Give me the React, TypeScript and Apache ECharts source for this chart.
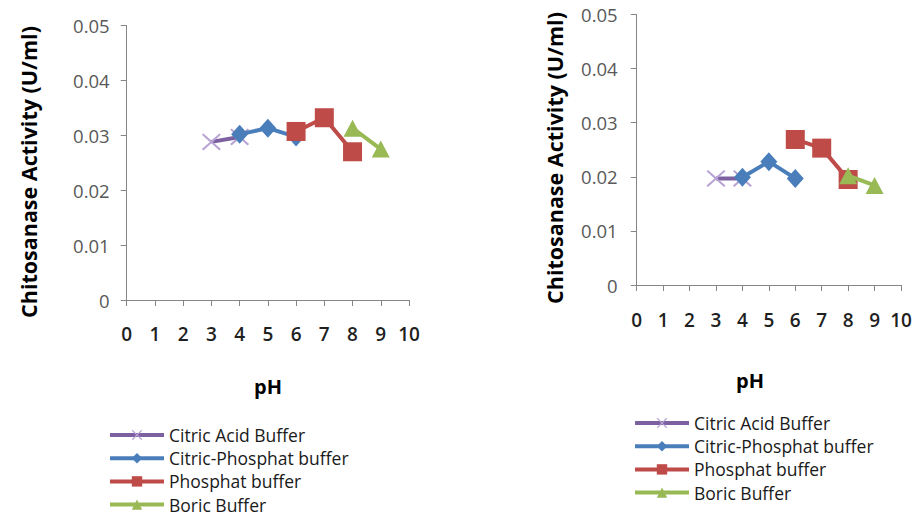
import React, { useEffect, useRef } from "react";
import * as echarts from "echarts";

const seriesNames = ["Citric Acid Buffer", "Citric-Phosphat buffer", "Phosphat buffer", "Boric Buffer"];
const xTicks = [0, 1, 2, 3, 4, 5, 6, 7, 8, 9, 10];
const yTicks = [0, 0.01, 0.02, 0.03, 0.04, 0.05];

const citricAcidPH = [3, 4];
const citricPhosphatPH = [4, 5, 6];
const phosphatPH = [6, 7, 8];
const boricPH = [8, 9];

// left chart
const leftCitricAcid = [0.0288, 0.0297];
const leftCitricPhosphat = [0.0302, 0.0313, 0.0297];
const leftPhosphat = [0.0307, 0.0332, 0.027];
const leftBoric = [0.0313, 0.0275];

// right chart
const rightCitricAcid = [0.0197, 0.0197];
const rightCitricPhosphat = [0.0199, 0.0228, 0.0197];
const rightPhosphat = [0.0269, 0.0253, 0.0195];
const rightBoric = [0.0202, 0.0184];

const FONT = "Open Sans";
const X_SYMBOL =
  "path://M0,0.8L0.8,0L5,4.2L9.2,0L10,0.8L5.8,5L10,9.2L9.2,10L5,5.8L0.8,10L0,9.2L4.2,5Z";

const styles = [
  { line: "#7D60A0", marker: "#B7A3D4", symbol: X_SYMBOL, size: [19, 17] },
  { line: "#4A7EBB", marker: "#4A7EBB", symbol: "diamond", size: [17, 19] },
  { line: "#BE4B48", marker: "#BE4B48", symbol: "rect", size: [19, 19] },
  { line: "#98B954", marker: "#98B954", symbol: "triangle", size: [18, 17] },
];

function zip(xs: number[], ys: number[]) {
  return xs.map((x, i) => [x, ys[i]]);
}

export default function App() {
  const ref = useRef<HTMLDivElement>(null);
  useEffect(() => {
    const chart = echarts.init(ref.current!, null, { renderer: "svg" });

    const xAxisBase = (gridIndex: number, margin: number) => ({
      type: "value",
      gridIndex,
      min: 0,
      max: 10,
      interval: 1,
      splitLine: { show: false },
      axisLine: { show: true, lineStyle: { color: "#868686", width: 1 } },
      axisTick: { show: true, length: 6, lineStyle: { color: "#868686" } },
      axisLabel: {
        margin,
        fontFamily: FONT,
        fontSize: 19,
        fontWeight: 600,
        color: "#1f1f1f",
        formatter: (v: number) => (xTicks.includes(v) ? String(v) : ""),
      },
    });
    const yAxisBase = (gridIndex: number, margin: number) => ({
      type: "value",
      gridIndex,
      min: 0,
      max: 0.05,
      interval: 0.01,
      splitLine: { show: false },
      axisLine: { show: true, lineStyle: { color: "#868686", width: 1 } },
      axisTick: { show: true, length: 6, lineStyle: { color: "#868686" } },
      axisLabel: {
        margin,
        fontFamily: FONT,
        fontSize: 18.5,
        color: "#595959",
        formatter: (v: number) => {
          const t = yTicks.find((k) => Math.abs(k - v) < 1e-9);
          return t === undefined ? "" : t === 0 ? "0" : t.toFixed(2);
        },
      },
    });

    const leftData = [leftCitricAcid, leftCitricPhosphat, leftPhosphat, leftBoric];
    const rightData = [rightCitricAcid, rightCitricPhosphat, rightPhosphat, rightBoric];
    const phs = [citricAcidPH, citricPhosphatPH, phosphatPH, boricPH];

    const mk = (gi: number, data: number[][]) =>
      data.map((vals, i) => ({
        type: "line",
        name: seriesNames[i],
        xAxisIndex: gi,
        yAxisIndex: gi,
        data: zip(phs[i], vals),
        symbol: styles[i].symbol,
        symbolSize: styles[i].size,
        showAllSymbol: true,
        lineStyle: { color: styles[i].line, width: 4 },
        itemStyle: { color: styles[i].marker, borderWidth: 0 },
        emphasis: { disabled: true },
        z: 2 + i,
      }));

    const legendBase = (left: number, top: number) => ({
      orient: "vertical",
      left,
      top,
      height: 110,
      padding: 0,
      itemWidth: 54,
      itemHeight: 13,
      itemGap: 5.2,
      itemTextGap: 3,
      selectedMode: false,
      data: seriesNames,
      lineStyle: { width: 4 },
      textStyle: { fontFamily: FONT, fontSize: 17.5, color: "#1a1a1a", lineHeight: 18 },
    });

    const titleText = "Chitosanase Activity (U/ml)";
    const boldText = (x: number, y: number, text: string, rot: number, size: number) => ({
      type: "text",
      x,
      y,
      rotation: rot,
      style: {
        text,
        fontFamily: FONT,
        fontSize: size,
        fontWeight: "bold",
        fill: "#000",
        align: "center",
        verticalAlign: "middle",
      },
    });

    chart.setOption({
      animation: false,
      grid: [
        { left: 126.7, right: 506, top: 25.5, bottom: 216, containLabel: false },
        { left: 636.7, right: 14, top: 14.5, bottom: 231, containLabel: false },
      ],
      xAxis: [xAxisBase(0, 24), xAxisBase(1, 25)],
      yAxis: [yAxisBase(0, 17), yAxisBase(1, 19)],
      legend: [legendBase(108, 426), legendBase(633, 414)],
      graphic: [
        boldText(28, 172, titleText, Math.PI / 2, 21.5),
        boldText(554, 158, titleText, Math.PI / 2, 21.5),
        boldText(268, 386, "pH", 0, 20),
        boldText(750, 380, "pH", 0, 20),
      ],
      series: [...mk(0, leftData), ...mk(1, rightData)],
    });
    return () => chart.dispose();
  }, []);
  return (
    <div
      ref={ref}
      style={{ position: "absolute", left: 0, top: 0, width: 915, height: 516, background: "#fff" }}
    />
  );
}
